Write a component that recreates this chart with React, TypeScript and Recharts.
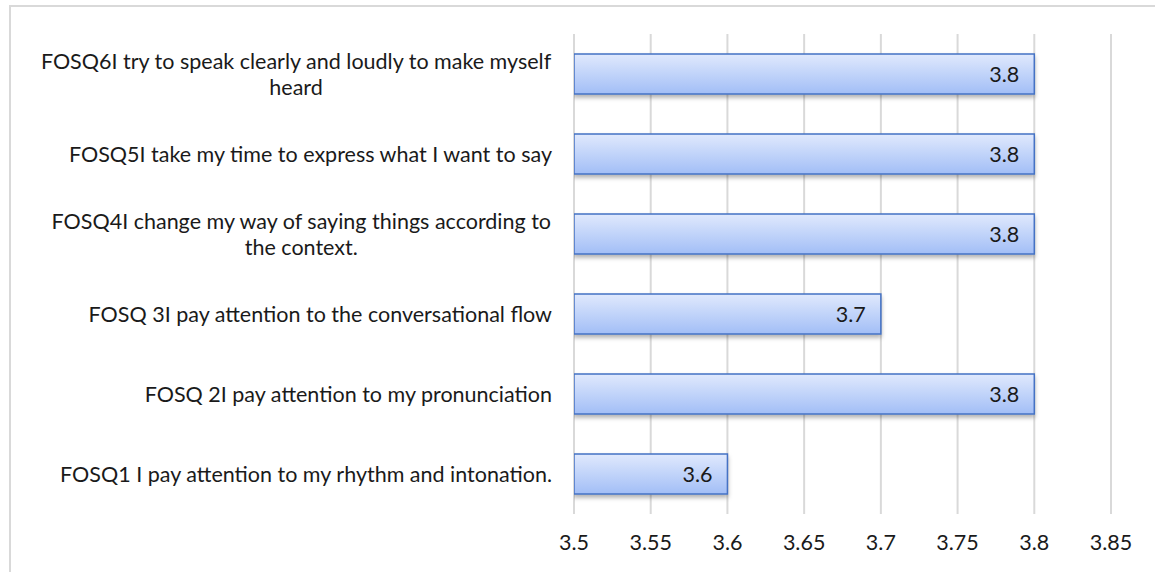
import { BarChart, Bar, XAxis, YAxis, CartesianGrid, LabelList } from 'recharts';

const categories = [
    'FOSQ1 I pay attention to my rhythm and intonation.',
    'FOSQ 2I pay attention to my pronunciation',
    'FOSQ 3I pay attention to the conversational flow',
    'FOSQ4I change my way of saying things according to|the context.',
    'FOSQ5I take my time to express what I want to say',
    'FOSQ6I try to speak clearly and loudly to make myself|heard',
];
const means = [3.6, 3.8, 3.7, 3.8, 3.8, 3.8];
const xTicks = [3.5, 3.55, 3.6, 3.65, 3.7, 3.75, 3.8, 3.85];

const data = categories.map((c, i) => ({ label: c, value: means[i] }));

const FONT = 'Lato, "Open Sans", sans-serif';
const FONT_SIZE = 21.5;

let ctx: CanvasRenderingContext2D | null = null;
const textWidth = (s: string) => {
    if (!ctx) ctx = document.createElement('canvas').getContext('2d');
    if (!ctx) return s.length * 10.5;
    ctx.font = `${FONT_SIZE}px Lato`;
    return ctx.measureText(s).width;
};

// category label: lines of a wrapped label are centred on each other, block right-aligned
const CategoryTick = (props: any) => {
    const { x, y, payload } = props;
    const lines: string[] = String(payload.value).split('|');
    const widest = Math.max(...lines.map(textWidth));
    const cx = x - widest / 2;
    const lh = 26;
    const y0 = y - ((lines.length - 1) * lh) / 2;
    return (
        <g>
            {lines.map((ln, i) => (
                <text key={i} x={lines.length > 1 ? cx : x} y={y0 + i * lh} dy="0.35em"
                    textAnchor={lines.length > 1 ? 'middle' : 'end'}
                    fontFamily={FONT} fontSize={FONT_SIZE} fill="#1a1a1a">
                    {ln}
                </text>
            ))}
        </g>
    );
};

const BarShape = (props: any) => {
    const { x, y, width, height } = props;
    return (
        <rect x={x} y={y} width={width} height={height} fill="url(#barFill)"
            stroke="#4472c4" strokeWidth={1.5} filter="url(#barShadow)" />
    );
};

export default function App() {
    return (
        <div style={{ position: 'fixed', left: 0, top: 0, width: 1155, height: 572, overflow: 'hidden', background: '#fff' }}>
            <div style={{ position: 'absolute', left: 9, top: 5, width: 2000, height: 2000, borderLeft: '2px solid #d9d9d9', borderTop: '2px solid #d9d9d9' }} />
            <div style={{ position: 'absolute', left: 0, top: 0 }}>
                <BarChart width={1155} height={572} data={data} layout="vertical"
                    margin={{ top: 34, right: 44, bottom: 0, left: 0 }} barCategoryGap="25%">
                    <defs>
                        <linearGradient id="barFill" x1="0" y1="0" x2="0" y2="1">
                            <stop offset="0%" stopColor="#e0e9fd" />
                            <stop offset="100%" stopColor="#a2bef6" />
                        </linearGradient>
                        <filter id="barShadow" x="-5%" y="-20%" width="110%" height="160%">
                            <feDropShadow dx="0" dy="3" stdDeviation="2" floodColor="#000" floodOpacity="0.3" />
                        </filter>
                    </defs>
                    <CartesianGrid horizontal={false} stroke="#d9d9d9" strokeWidth={2} />
                    <XAxis type="number" domain={[3.5, 3.85]} ticks={xTicks} allowDataOverflow
                        axisLine={false} tickLine={false} height={58} tickMargin={15}
                        tick={{ fontFamily: FONT, fontSize: FONT_SIZE, fill: '#1a1a1a' }} />
                    <YAxis type="category" dataKey="label" reversed width={574}
                        axisLine={false} tickLine={false} tickMargin={16} interval={0}
                        tick={<CategoryTick />} />
                    <Bar dataKey="value" shape={<BarShape />} isAnimationActive={false}>
                        <LabelList dataKey="value" position="insideRight" offset={15}
                            fill="#1a1a1a" fontFamily={FONT} fontSize={FONT_SIZE} />
                    </Bar>
                </BarChart>
            </div>
        </div>
    );
}
